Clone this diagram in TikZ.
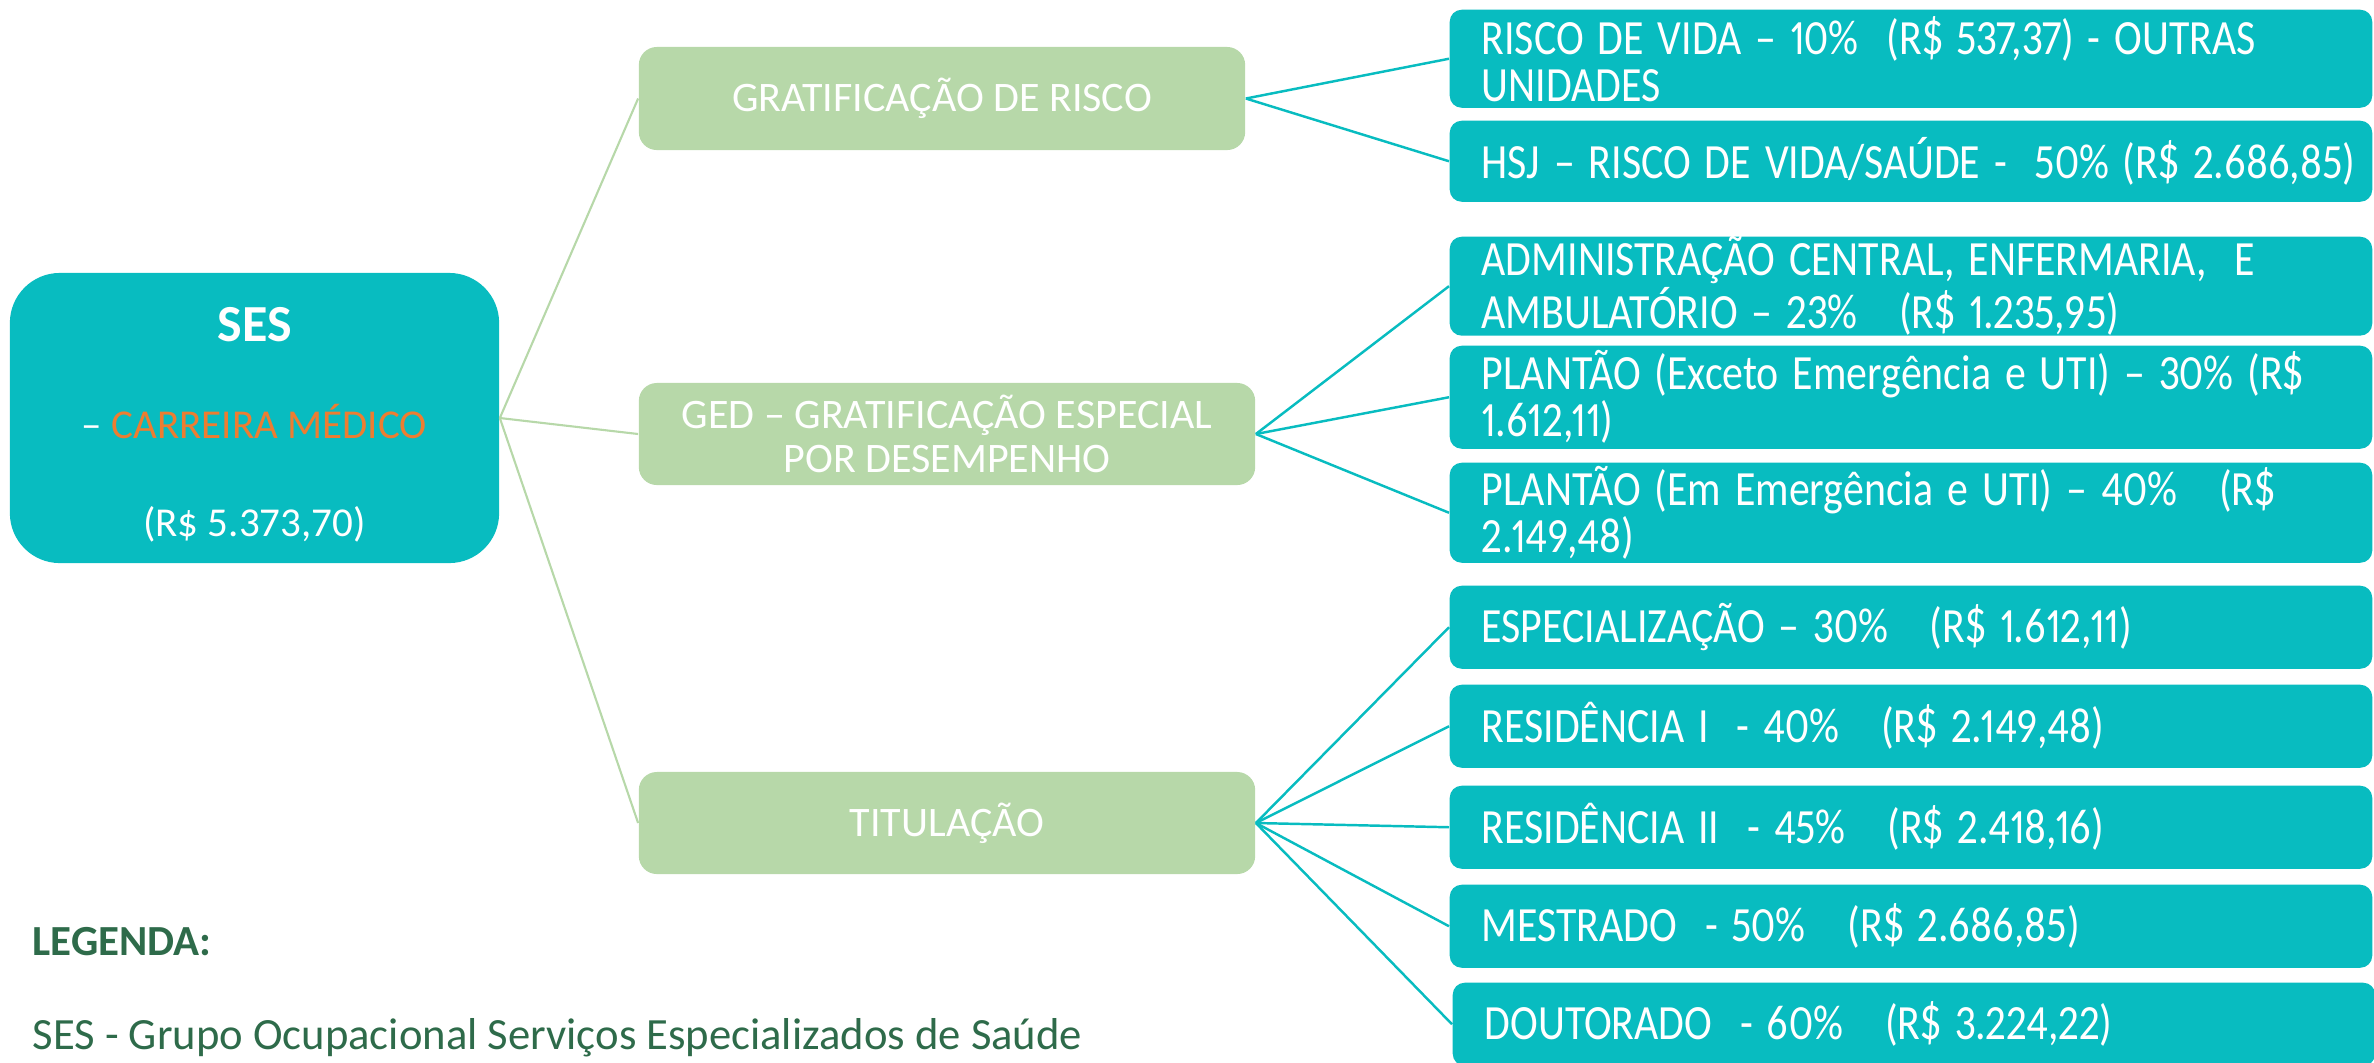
\documentclass[tikz,border=0pt]{standalone}
\usepackage{graphicx}
\usepackage{fontspec}
\setmainfont{Carlito}
\newfontfamily\rfont{Carlito}[WordSpace=0.8,Numbers=Proportional]
\definecolor{tealc}{RGB}{8,188,192}
\definecolor{greenc}{RGB}{183,216,169}
\definecolor{orangec}{RGB}{237,125,49}
\definecolor{legc}{RGB}{46,107,74}
\newcommand{\sqz}[1]{\scalebox{0.85}[1]{#1}}
\begin{document}
\begin{tikzpicture}[x=0.01cm,y=-0.01cm,
  rootbox/.style={fill=tealc, rounded corners=0.5cm, minimum width=4.89cm, minimum height=2.9cm, inner sep=0pt, align=center, text=white, font=\fontsize{11.67pt}{27.74pt}\selectfont},
  rbox/.style={fill=tealc, rounded corners=0.12cm, minimum width=9.22cm, text width=8.58cm, inner xsep=0.32cm, inner ysep=0pt, align=left, anchor=north west, text=white, font=\rfont\fontsize{14pt}{13.37pt}\selectfont},
  mbox/.style={fill=greenc, rounded corners=0.18cm, text=white, align=center, inner sep=0pt, font=\fontsize{11.95pt}{12.5pt}\selectfont},
  gline/.style={draw=greenc, line width=0.6pt},
  tline/.style={draw=tealc, line width=0.7pt},
  legtext/.style={anchor=base west, inner sep=0pt, text=legc}]

\useasboundingbox (0,0) rectangle (2374,1062);

% root
\node[rootbox] (root) at (254.5,418) {\rule{0pt}{13.5pt}{\fontsize{14.8pt}{27.74pt}\selectfont\bfseries SES}\\– {\color{orangec}CARREIRA MÉDICO}\\(R\$ 5.373,70)};

% middle
\node[mbox, minimum width=6.06cm, minimum height=1.03cm] (grat) at (942,98.5) {GRATIFICAÇÃO DE RISCO};
\node[mbox, minimum width=6.16cm, minimum height=1.02cm] (ged) at (947,434) {GED – GRATIFICAÇÃO ESPECIAL\\POR DESEMPENHO};
\node[mbox, minimum width=6.16cm, minimum height=1.02cm] (tit) at (947,823) {TITULAÇÃO};

% right
\node[rbox, minimum height=0.98cm] (r1) at (1449,9) {\sqz{RISCO DE VIDA – 10\%~ (R\$ 537,37) - OUTRAS}\\\sqz{UNIDADES}};
\node[rbox, minimum height=0.81cm] (r2) at (1449,120) {\sqz{HSJ – RISCO DE VIDA/SAÚDE -~ 50\% (R\$ 2.686,85)}};
\node[rbox, minimum height=0.94cm] (r3) at (1449,236) {\sqz{ADMINISTRAÇÃO CENTRAL, ENFERMARIA,~ E}\\\sqz{AMBULATÓRIO – 23\%~~ (R\$ 1.235,95)}};
\node[rbox, minimum height=1.03cm] (r4) at (1449,345) {\sqz{PLANTÃO (Exceto Emergência e UTI) – 30\% (R\$}\\\sqz{1.612,11)}};
\node[rbox, minimum height=1.00cm] (r5) at (1449,462) {\sqz{PLANTÃO (Em Emergência e UTI) – 40\%~~ (R\$}\\\sqz{2.149,48)}};
\node[rbox, minimum height=0.83cm] (r6) at (1449,585) {\sqz{ESPECIALIZAÇÃO – 30\%~~ (R\$ 1.612,11)}};
\node[rbox, minimum height=0.83cm] (r7) at (1449,684) {\sqz{RESIDÊNCIA I~ - 40\%~~ (R\$ 2.149,48)}};
\node[rbox, minimum height=0.83cm] (r8) at (1449,785) {\sqz{RESIDÊNCIA II~ - 45\%~~ (R\$ 2.418,16)}};
\node[rbox, minimum height=0.83cm] (r9) at (1449,884) {\sqz{MESTRADO~ - 50\%~~ (R\$ 2.686,85)}};
\node[rbox, minimum height=0.83cm] (r10) at (1452,982) {\sqz{DOUTORADO~ - 60\%~~ (R\$ 3.224,22)}};

% connectors root -> middle
\draw[gline] (root.east) -- (grat.west);
\draw[gline] (root.east) -- (ged.west);
\draw[gline] (root.east) -- (tit.west);

% middle -> right
\draw[tline] (grat.east) -- (r1.west);
\draw[tline] (grat.east) -- (r2.west);
\draw[tline] (ged.east) -- (r3.west);
\draw[tline] (ged.east) -- (r4.west);
\draw[tline] (ged.east) -- (r5.west);
\draw[tline] (tit.east) -- (r6.west);
\draw[tline] (tit.east) -- (r7.west);
\draw[tline] (tit.east) -- (r8.west);
\draw[tline] (tit.east) -- (r9.west);
\draw[tline] (tit.east) -- (r10.west);

% legend
\node[legtext, font=\fontsize{12.2pt}{13pt}\selectfont\bfseries] (leg1) at (32,955) {LEGENDA:};
\node[legtext, font=\fontsize{12.7pt}{14pt}\selectfont] (leg2) at (32,1049) {SES - Grupo Ocupacional Serviços Especializados de Saúde};
\end{tikzpicture}
\end{document}
